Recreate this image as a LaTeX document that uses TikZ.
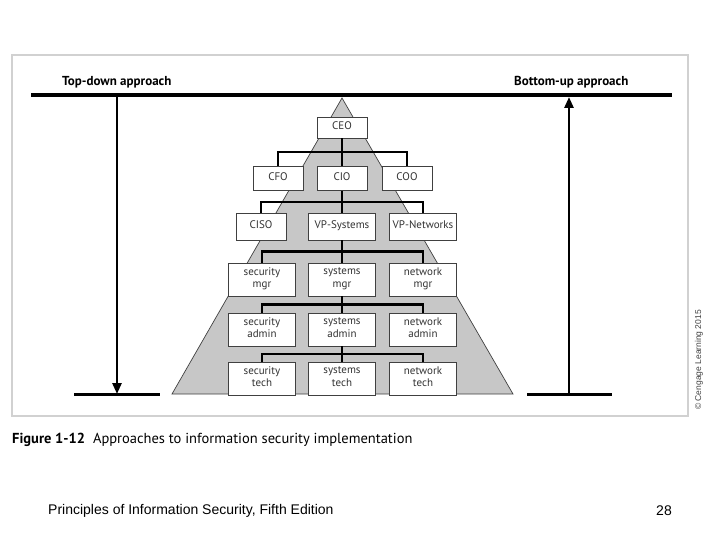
\documentclass[tikz,border=0pt]{standalone}
\usepackage{fontspec}
\setmainfont{PT Sans}
\newfontfamily\arialfont{Liberation Sans}
\usetikzlibrary{
	arrows.meta,
	calc
}

\begin{document}
\begin{tikzpicture}[x=1pt, y=-1pt,
				box/.style={
					rectangle, draw=black!75, fill=white, line width=0.8pt,
					minimum width=67pt, minimum height=33pt, inner sep=1pt,
					align=center, text=black!80,
					font=\fontsize{11}{12.5}\selectfont,
					execute at begin node=\strut, execute at end node=\strut
				},
				smallbox/.style={
					box, minimum width=50pt, minimum height=24pt
				},
				midbox/.style={
					box, minimum height=27pt
				},
				link/.style={line width=2.4pt, black},
				bar/.style={line width=3.6pt, black},
				arrow/.style={-{Triangle[length=11pt, width=9pt]}, line width=2.6pt, black},
				approach/.style={inner sep=0pt, font=\fontsize{13}{15}\selectfont\bfseries},
				pyramid/.style={fill=black!22, draw=black!75, line width=0.7pt},
				]
				\useasboundingbox (0,0) rectangle (720,540);
				\draw[black!18, line width=1.5pt] (12,55) rectangle (688,416);
				
				%pyramid
				\coordinate (apex) at (342,98);
				\coordinate (baseL) at (172,394);
				\coordinate (baseR) at (513,394);
				\filldraw[pyramid] (apex) -- (baseR) -- (baseL) -- cycle;
				
				%bar and approaches
				\coordinate (barL) at (31,95);
				\coordinate (barR) at (672,95);
				\draw[bar] (barL) -- (barR);
				\node[approach, anchor=south west] (topdown) at (62,88) {Top-down approach};
				\node[approach, anchor=south west] (bottomup) at (514,88) {Bottom-up approach};
				
				\coordinate (tdtop) at (117,95);
				\coordinate (tdbot) at (117,394);
				\coordinate (tdL) at (74,394);
				\coordinate (tdR) at (160,394);
				\draw[arrow] (tdtop) -- (tdbot);
				\draw[bar, line width=3pt] (tdL) -- (tdR);
				
				\coordinate (butop) at (569,97);
				\coordinate (bubot) at (569,394);
				\coordinate (buL) at (527,394);
				\coordinate (buR) at (612,394);
				\draw[arrow] (bubot) -- (butop);
				\draw[bar, line width=3pt] (buL) -- (buR);
				
				%1. set
				\node[smallbox, minimum height=21pt] (ceo) at (342,127.5) {CEO};
				
				%2. set
				\node[smallbox] (cfo) at (278,178.5) {CFO};
				\node[smallbox] (cio) at (342,178.5) {CIO};
				\node[smallbox] (coo) at (407,178.5) {COO};
				
				%3. set
				\node[midbox, minimum width=50pt] (ciso) at (261,226.5) {CISO};
				\node[midbox] (vpsys) at (342,226.5) {VP-Systems};
				\node[midbox] (vpnet) at (423,226.5) {VP-Networks};
				
				%4. set
				\node[box] (secmgr) at (262,279.5) {security\\mgr};
				\node[box] (sysmgr) at (342,279.5) {systems\\mgr};
				\node[box] (netmgr) at (423,279.5) {network\\mgr};
				
				%5. set
				\node[box] (secadm) at (262,329.5) {security\\admin};
				\node[box] (sysadm) at (342,329.5) {systems\\admin};
				\node[box] (netadm) at (423,329.5) {network\\admin};
				
				%6. set
				\node[box] (sectech) at (262,378.5) {security\\tech};
				\node[box] (systech) at (342,378.5) {systems\\tech};
				\node[box] (nettech) at (423,378.5) {network\\tech};
				
				%links
				\draw[link] (ceo) -- (cio);
				\draw[link] (cfo.north) |- ($(ceo.south)!0.5!(cio.north)$) -| (coo.north);
				\draw[link] (cio) -- (vpsys);
				\draw[link] (ciso.north) |- ($(cio.south)!0.5!(vpsys.north)$) -| (vpnet.north);
				\draw[link] (vpsys) -- (sysmgr);
				\draw[link] (secmgr.north) |- ($(vpsys.south)!0.5!(sysmgr.north)$) -| (netmgr.north);
				\draw[link] (sysmgr) -- (sysadm);
				\draw[link] (secadm.north) |- ($(sysmgr.south)!0.5!(sysadm.north)$) -| (netadm.north);
				\draw[link] (sysadm) -- (systech);
				\draw[link] (sectech.north) |- ($(sysadm.south)!0.5!(systech.north)$) -| (nettech.north);
				
				%caption and footer
				\node[anchor=west, inner sep=0pt, font=\fontsize{14.5}{17}\selectfont] (caption) at (12,440)
					{\textbf{Figure 1-12}\hspace{8pt}Approaches to information security implementation};
				\node[anchor=west, inner sep=0pt, font=\arialfont\fontsize{14}{16}\selectfont] (book) at (48,511)
					{Principles of Information Security, Fifth Edition};
				\node[anchor=east, inner sep=0pt, font=\arialfont\fontsize{14}{16}\selectfont] (page) at (672,511) {28};
				\node[rotate=90, inner sep=0pt, text=black!75, font=\arialfont\fontsize{8.5}{10}\selectfont] (copy) at (699,360)
					{\textcopyright{} Cengage Learning 2015};
			\end{tikzpicture}
\end{document}
